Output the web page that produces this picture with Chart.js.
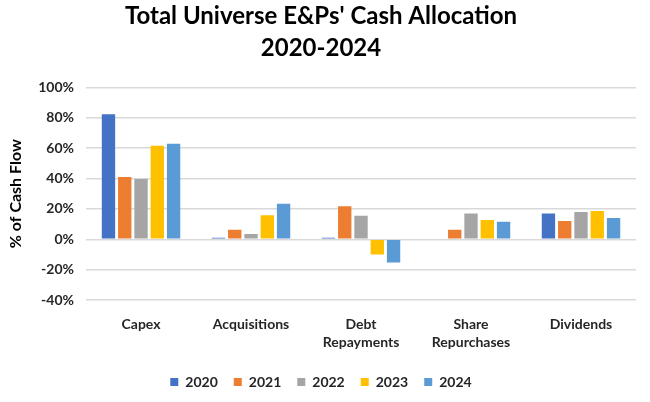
<!DOCTYPE html>
<html>
<head>
<meta charset="utf-8">
<script src="https://cdn.jsdelivr.net/npm/chart.js@4/dist/chart.umd.min.js"></script>
<style>
  body { margin: 0; background: #fff; }
  #wrap { width: 650px; height: 402px; }
</style>
</head>
<body>
<div id="wrap"><canvas id="graph" width="650" height="402"></canvas></div>
<script>
// categories and values (percent of cash flow)
var categories = ['Capex', 'Acquisitions', ['Debt', 'Repayments'], ['Share', 'Repurchases'], 'Dividends']
var years = ['2020', '2021', '2022', '2023', '2024']
var colors = ['#4472C4', '#ED7D31', '#A5A5A5', '#FFC000', '#5B9BD5']

var v2020 = [82.4, 1, 1, 0, 16.9]
var v2021 = [41, 6.2, 21.7, 6.2, 12.1]
var v2022 = [39.7, 3.5, 15.4, 16.9, 18]
var v2023 = [61.6, 15.8, -10, 12.7, 18.6]
var v2024 = [62.9, 23.4, -15.3, 11.6, 14]
var seriesValues = [v2020, v2021, v2022, v2023, v2024]

var yMin = -40
var yMax = 100
var yStep = 20

var font = 'Lato, "Open Sans", sans-serif'
var txt = '#262626'

var datasets = years.map(function (yr, i) {
    return {
        label: yr,
        data: seriesValues[i],
        backgroundColor: colors[i],
        borderWidth: 0,
        categoryPercentage: 0.74,
        barPercentage: 0.82
    }
})

var ctx = document.getElementById('graph').getContext('2d')
var chart = new Chart(ctx, {
    type: 'bar',
    data: { labels: categories, datasets: datasets },
    options: {
        responsive: false,
        animation: false,
        layout: { padding: { left: 6, right: 14, top: 1, bottom: 3 } },
        plugins: {
            title: {
                display: true,
                text: ["Total Universe E&Ps' Cash Allocation", '2020-2024'],
                color: '#000',
                font: { family: font, size: 24, weight: 'bold', lineHeight: 1.3 },
                padding: { top: 0, bottom: 24 }
            },
            legend: {
                position: 'bottom',
                labels: {
                    color: txt,
                    font: { family: font, size: 14, weight: 'bold' },
                    boxWidth: 8,
                    boxHeight: 8,
                    padding: 16
                }
            },
            tooltip: { enabled: false }
        },
        scales: {
            x: {
                grid: { display: false },
                border: { display: false },
                ticks: {
                    color: txt,
                    font: { family: font, size: 14, weight: 'bold', lineHeight: 1.25 },
                    maxRotation: 0,
                    padding: 8
                }
            },
            y: {
                min: yMin,
                max: yMax,
                grid: { color: '#d9d9d9', lineWidth: 1.5, drawTicks: false },
                border: { display: false },
                ticks: {
                    stepSize: yStep,
                    color: txt,
                    padding: 12,
                    font: { family: font, size: 14, weight: 'bold' },
                    callback: function (v) { return v + '%' }
                },
                title: {
                    display: true,
                    text: '% of Cash Flow',
                    color: '#000',
                    font: { family: font, size: 16, weight: 'bold' },
                    padding: { top: 0, bottom: 1 }
                }
            }
        }
    }
})
</script>
</body>
</html>
